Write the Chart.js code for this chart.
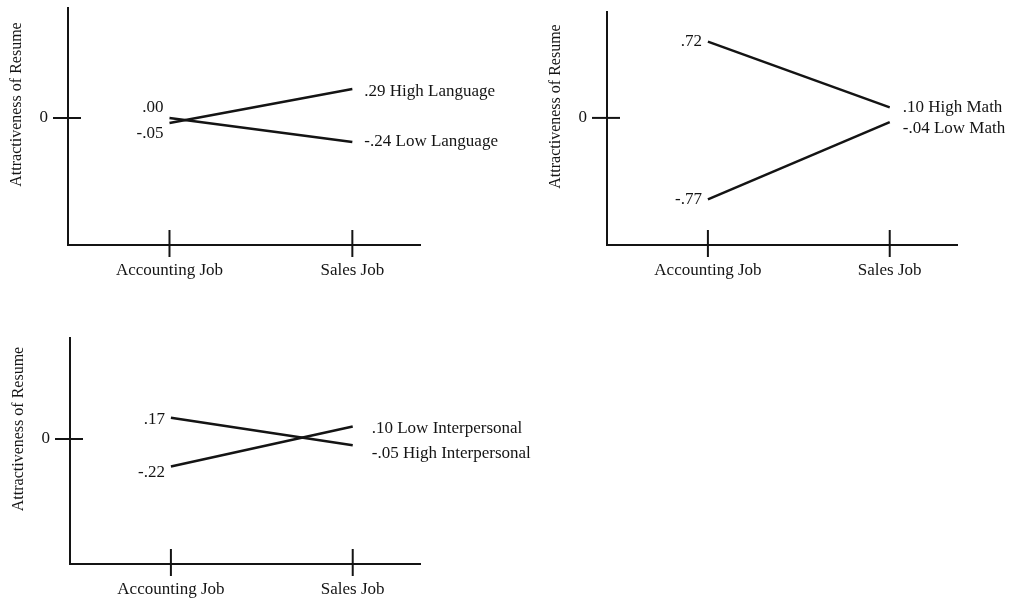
<!DOCTYPE html>
<html>
<head>
<meta charset="utf-8">
<script src="https://cdn.jsdelivr.net/npm/chart.js@4.4.1/dist/chart.umd.min.js"></script>
<style>
  body { margin: 0; background: #fff; }
  .panel { position: absolute; }
</style>
</head>
<body>
<canvas id="language_chart_area" class="panel" width="520" height="290" style="left:0;top:0"></canvas>
<canvas id="math_chart_area" class="panel" width="489" height="300" style="left:520px;top:0"></canvas>
<canvas id="interpersonal_chart_area" class="panel" width="600" height="279" style="left:0;top:320px"></canvas>
<script>
const categories = ["Accounting Job", "Sales Job"];
const yTickValues = [0];
const yTitle = "Attractiveness of Resume";

const languageSeries = ["High Language", "Low Language"];
const languageHigh = [-0.05, 0.29];
const languageLow = [0.00, -0.24];

const mathSeries = ["High Math", "Low Math"];
const mathHigh = [0.72, 0.10];
const mathLow = [-0.77, -0.04];

const interpersonalSeries = ["High Interpersonal", "Low Interpersonal"];
const interpersonalHigh = [0.17, -0.05];
const interpersonalLow = [-0.22, 0.10];

const INK = "#141414";
const FONT = "'Liberation Serif', 'Times New Roman', serif";

// .29 / -.24 style, no leading zero
function fmt(v) {
  return (v < 0 ? "-" : "") + Math.abs(v).toFixed(2).replace(/^0/, "");
}

// tick marks that cross the axis, value labels and the rotated y title
const decorations = {
  id: "decorations",
  afterDraw(chart) {
    const ctx = chart.ctx;
    const area = chart.chartArea;
    const xs = chart.scales.x;
    const ys = chart.scales.y;
    const opts = chart.options.plugins.decorations;
    ctx.save();
    ctx.strokeStyle = INK;
    ctx.lineWidth = 2;
    xs.ticks.forEach((t) => {
      const px = xs.getPixelForValue(t.value);
      ctx.beginPath();
      ctx.moveTo(px, area.bottom - 15);
      ctx.lineTo(px, area.bottom + 12);
      ctx.stroke();
    });
    ys.ticks.forEach((t) => {
      const py = ys.getPixelForValue(t.value);
      ctx.beginPath();
      ctx.moveTo(area.left - 15, py);
      ctx.lineTo(area.left + 13, py);
      ctx.stroke();
    });

    ctx.fillStyle = INK;
    ctx.font = "17px " + FONT;
    ctx.textBaseline = "middle";
    chart.data.datasets.forEach((ds, i) => {
      const pts = chart.getDatasetMeta(i).data;
      ctx.textAlign = "right";
      ctx.fillText(fmt(ds.data[0].y), pts[0].x - 6, pts[0].y + opts.dyLeft[i]);
      ctx.textAlign = "left";
      ctx.fillText(fmt(ds.data[1].y) + " " + ds.label, pts[1].x + opts.dxRight, pts[1].y + opts.dyRight[i]);
    });

    ctx.translate(area.left - 51, (area.top + area.bottom) / 2 - 22);
    ctx.rotate(-Math.PI / 2);
    ctx.textAlign = "center";
    ctx.font = "16px " + FONT;
    ctx.fillText(yTitle, 0, 0);
    ctx.restore();
  },
};

function makePanel(id, series, high, low, yMin, yMax, padding, yWidth, xHeight, dyLeft, dyRight, dxRight) {
  const area = document.getElementById(id).getContext("2d");
  return new Chart(area, {
    type: "line",
    data: {
      datasets: [
        {
          label: series[0],
          data: high.map((v, i) => ({ x: i, y: v })),
          borderColor: INK,
          borderWidth: 2.5,
          pointRadius: 0,
        },
        {
          label: series[1],
          data: low.map((v, i) => ({ x: i, y: v })),
          borderColor: INK,
          borderWidth: 2.5,
          pointRadius: 0,
        },
      ],
    },
    options: {
      responsive: false,
      animation: false,
      devicePixelRatio: 1,
      layout: { padding: padding },
      plugins: {
        legend: { display: false },
        tooltip: { enabled: false },
        decorations: { dyLeft: dyLeft, dyRight: dyRight, dxRight: dxRight },
      },
      scales: {
        x: {
          type: "linear",
          min: -0.555,
          max: 1.37,
          grid: { display: false, drawTicks: false },
          border: { display: true, color: INK, width: 2 },
          afterBuildTicks: (scale) => {
            scale.ticks = categories.map((c, i) => ({ value: i }));
          },
          afterFit: (scale) => {
            scale.height = xHeight;
            scale.paddingLeft = 0;
            scale.paddingRight = 0;
          },
          ticks: {
            padding: 15,
            color: INK,
            font: { family: FONT, size: 17 },
            maxRotation: 0,
            autoSkip: false,
            callback: (v) => categories[v],
          },
        },
        y: {
          min: yMin,
          max: yMax,
          grid: { display: false, drawTicks: false },
          border: { display: true, color: INK, width: 2 },
          afterBuildTicks: (scale) => {
            scale.ticks = yTickValues.map((v) => ({ value: v }));
          },
          afterFit: (scale) => {
            scale.width = yWidth;
            scale.paddingTop = 0;
            scale.paddingBottom = 0;
          },
          ticks: {
            padding: 20,
            color: INK,
            font: { family: FONT, size: 17 },
            callback: (v) => String(v),
          },
        },
      },
    },
    plugins: [decorations],
  });
}

// Language panel
makePanel("language_chart_area", languageSeries, languageHigh, languageLow,
  -1.27, 1.10, { top: 8, right: 100, left: 0, bottom: 0 }, 68, 45, [11, -10], [3, 0], 12);

// Math panel
makePanel("math_chart_area", mathSeries, mathHigh, mathLow,
  -1.2, 1.0, { top: 12, right: 52, left: 0, bottom: 0 }, 87, 55, [0, 0], [0, 6], 13);

// Interpersonal panel
makePanel("interpersonal_chart_area", interpersonalSeries, interpersonalHigh, interpersonalLow,
  -1.0, 0.808, { top: 18, right: 180, left: 0, bottom: 0 }, 70, 35, [2, 6], [8, 2], 19);
</script>
</body>
</html>
